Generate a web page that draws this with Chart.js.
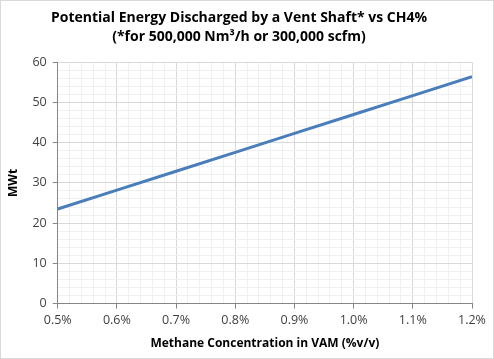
<!DOCTYPE html>
<html>
<head>
<meta charset="utf-8">
<script src="https://cdn.jsdelivr.net/npm/chart.js@4.4.0/dist/chart.umd.min.js"></script>
<style>
  html, body { margin: 0; padding: 0; background: #fff; }
  #wrap { width: 492px; height: 357px; border: 1px solid #d9d9d9; }
</style>
</head>
<body>
<div id="wrap"><canvas id="myChart" width="492" height="357"></canvas></div>
<script>
const concentrations = [0.5, 0.6, 0.7, 0.8, 0.9, 1.0, 1.1, 1.2];
const energyMWt = [23.5, 28.2, 32.9, 37.6, 42.3, 47.0, 51.7, 56.4];
const titleLines = ['Potential Energy Discharged by a Vent Shaft* vs CH4%', '(*for 500,000 Nm³/h or 300,000 scfm)'];

const fontFamily = "'Open Sans', 'Liberation Sans', sans-serif";

// every 5th tick is a major one, the rest are minor grid lines
const gridColor = (ctx) => ctx.index % 5 === 0 ? '#d9d9d9' : '#f0f0f0';
const tickColor = (ctx) => ctx.index % 5 === 0 ? '#868686' : 'rgba(0,0,0,0)';

const config = {
    type: 'line',
    data: {
        datasets: [{
            data: concentrations.map((c, i) => ({ x: c, y: energyMWt[i] })),
            borderColor: '#4a7ebb',
            borderWidth: 3,
            pointRadius: 0,
            fill: false,
            tension: 0
        }]
    },
    options: {
        responsive: false,
        animation: false,
        layout: { padding: { left: 5, right: 21, top: 3, bottom: 7 } },
        plugins: {
            legend: { display: false },
            tooltip: { enabled: false },
            title: {
                display: true,
                text: titleLines,
                color: '#000',
                font: { family: fontFamily, size: 14, weight: 'bold', lineHeight: 1.4 },
                padding: { top: 4, bottom: 15 }
            }
        },
        scales: {
            x: {
                type: 'linear',
                min: 0.5,
                max: 1.2,
                grid: { color: gridColor, tickColor: tickColor, tickLength: 5 },
                border: { color: '#868686' },
                ticks: {
                    stepSize: 0.02,
                    autoSkip: false,
                    maxRotation: 0,
                    padding: 4,
                    color: '#404040',
                    font: { family: fontFamily, size: 12.5 },
                    callback: function (value, index) {
                        return index % 5 === 0 ? value.toFixed(1) + '%' : '';
                    }
                },
                title: {
                    display: true,
                    text: 'Methane Concentration in VAM (%v/v)',
                    color: '#000',
                    font: { family: fontFamily, size: 12, weight: 'bold' },
                    padding: { top: 5, bottom: 0 }
                }
            },
            y: {
                min: 0,
                max: 60,
                grid: { color: gridColor, tickColor: tickColor, tickLength: 5 },
                border: { color: '#868686' },
                ticks: {
                    stepSize: 2,
                    autoSkip: false,
                    padding: 6,
                    color: '#404040',
                    font: { family: fontFamily, size: 12.5 },
                    callback: function (value, index) {
                        return index % 5 === 0 ? value : '';
                    }
                },
                title: {
                    display: true,
                    text: 'MWt',
                    color: '#000',
                    font: { family: fontFamily, size: 12, weight: 'bold' },
                    padding: { top: 0, bottom: 6 }
                }
            }
        }
    }
};

const myChart = new Chart(document.getElementById('myChart'), config);
</script>
</body>
</html>
